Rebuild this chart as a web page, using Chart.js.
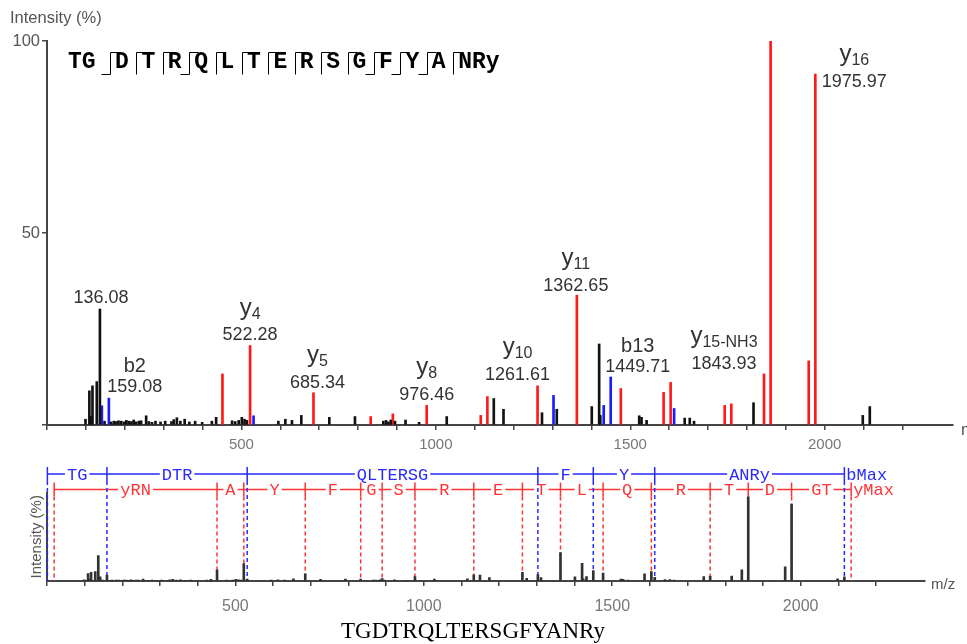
<!DOCTYPE html>
<html>
<head>
<meta charset="utf-8">
<script src="https://cdn.jsdelivr.net/npm/chart.js@4.4.0/dist/chart.umd.min.js"></script>
<style>
body { margin: 0; background: #fff; width: 967px; height: 644px; overflow: hidden; position: relative; }
#spectrum { position: absolute; left: 0; top: 0; }
#ladder { position: absolute; left: 0; top: 455px; }
#caption { position: absolute; left: 0; width: 946px; top: 619px; text-align: center;
           font: 23px "Liberation Serif", "Times New Roman", serif; line-height: 23px; color: #000; }
</style>
</head>
<body>
<canvas id="spectrum" width="967" height="460"></canvas>
<canvas id="ladder" width="967" height="165"></canvas>
<div id="caption">TGDTRQLTERSGFYANRy</div>
<script>
// unassigned peaks (m/z, relative intensity %)
var peakMz  = [99, 109, 113, 117, 128, 136.08, 148, 165, 172, 178.5, 184, 191, 198, 204, 210, 217, 223, 229, 236, 242,
               255, 262, 270, 279, 292, 304, 320, 326, 334, 343, 354, 366, 381, 399, 424, 435, 476, 484, 493, 501,
               508, 514, 595, 613, 630, 654, 726, 792, 865, 872, 878, 884, 895, 922, 957, 1028, 1149, 1174, 1273, 1311,
               1401, 1420, 1423, 1523, 1529, 1542, 1640, 1653, 1664, 1817, 2098, 2116];
var peakInt = [1.5, 8.9, 2.2, 10.2, 11.3, 30.2, 1.0, 0.8, 1.0, 0.9, 1.1, 1.0, 0.8, 1.2, 1.0, 0.9, 1.3, 0.8, 1.0, 1.1,
               2.4, 0.9, 0.7, 1.0, 0.8, 1.0, 0.9, 1.4, 1.9, 1.0, 1.5, 0.8, 1.0, 0.7, 1.0, 2.0, 1.1, 0.9, 1.2, 2.0,
               1.5, 1.2, 1.0, 1.5, 1.2, 2.5, 2.0, 2.2, 1.0, 1.2, 0.8, 1.3, 1.0, 1.3, 0.7, 2.2, 6.9, 4.1, 3.2, 4.1,
               4.8, 21.1, 2.5, 2.4, 2.0, 1.2, 1.8, 1.8, 1.0, 5.8, 2.5, 4.8];

// y-series fragments
var yIonMz  = [451.24, 522.28, 685.34, 832.41, 889.43, 976.46, 1115.53, 1132.56, 1261.61, 1362.65,
               1475.73, 1585.78, 1603.79, 1742.86, 1759.89, 1843.93, 1860.94, 1958.94, 1975.97];
var yIonInt = [13.3, 20.7, 8.4, 2.2, 2.9, 5.1, 2.5, 7.4, 10.2, 33.8,
               9.5, 8.5, 11.1, 5.1, 5.5, 13.3, 100, 16.7, 91.4];

// b-series fragments
var bIonMz  = [141.07, 159.08, 531.25, 1302.64, 1431.70, 1449.71, 1612.77];
var bIonInt = [5.0, 7.0, 2.4, 7.7, 5.1, 12.5, 4.3];

// labelled peaks
var annMz   = [136.08, 159.08, 522.28, 685.34, 976.46, 1261.61, 1362.65, 1449.71, 1843.93, 1975.97];
var annIon  = ['', 'b2', 'y', 'y', 'y', 'y', 'y', 'b13', 'y', 'y'];
var annSub  = ['', '', '4', '5', '8', '10', '11', '', '15-NH3', '16'];
// label placement relative to the peak top (px)
var annDx   = [1, 26, 0, 4, 0, -20, -1, 27, -40, 39];
var annDy   = [-11, -11, -10, -10, -10, -11, -9, -10, -10, 8];

// sequence header: residue blocks and which breaks were seen as b / y ions
var seqBlocks = ['TG', 'D', 'T', 'R', 'Q', 'L', 'T', 'E', 'R', 'S', 'G', 'F', 'Y', 'A', 'NRy'];
var seqBreakB = [1, 0, 0, 1, 0, 0, 0, 0, 0, 0, 1, 1, 1, 0];
var seqBreakY = [1, 1, 1, 1, 1, 1, 1, 1, 1, 1, 1, 1, 1, 1];

// fragment ladders
var bLadderMz  = [1.01, 159.08, 531.25, 1302.64, 1449.71, 1612.77, 2116.03];
var bLadderTxt = ['TG', 'DTR', 'QLTERSG', 'F', 'Y', 'ANRy'];
var yLadderMz  = [19.02, 451.24, 522.28, 685.34, 832.41, 889.43, 976.46, 1132.56, 1261.61, 1362.65,
                  1475.73, 1603.79, 1759.89, 1860.94, 1975.97, 2134.04];
var yLadderTxt = ['yRN', 'A', 'Y', 'F', 'G', 'S', 'R', 'E', 'T', 'L', 'Q', 'R', 'T', 'D', 'GT'];

var xTicks = [500, 1000, 1500, 2000];

var SANS = '"Liberation Sans", Arial, sans-serif';
var MONO = '"Liberation Mono", "Courier New", monospace';
var RED = '#ff1a1a', BLUE = '#1a1aff';

function points(mz, val) {
    return mz.map(function (m, i) { return { x: m, y: val[i] }; });
}

function intensityAt(m) {
    var lists = [[yIonMz, yIonInt], [bIonMz, bIonInt], [peakMz, peakInt]];
    for (var i = 0; i < lists.length; i++) {
        var k = lists[i][0].indexOf(m);
        if (k >= 0) return lists[i][1][k];
    }
    return 0;
}

function xAxis(afterFitHeight, labelPad, fontSize) {
    return {
        type: 'linear', min: 0, max: 2330, offset: false,
        afterBuildTicks: function (s) { s.ticks = s.ticks.filter(function (t) { return t.value % 100 === 0; }); },
        afterFit: function (s) { s.height = afterFitHeight; },
        border: { display: true, color: '#444', width: 2 },
        grid: { display: true, offset: false, drawOnChartArea: false, drawTicks: true, tickLength: 5, color: '#444', lineWidth: 1.5 },
        ticks: {
            stepSize: 100, autoSkip: false, maxRotation: 0, padding: labelPad,
            color: '#777', font: { family: SANS, size: fontSize },
            callback: function (v) { return xTicks.indexOf(v) >= 0 ? String(v) : ''; }
        }
    };
}

// ---------- main spectrum ----------
var spectrumText = {
    id: 'spectrumText',
    afterDatasetsDraw: function (chart) {
        var ctx = chart.ctx, x = chart.scales.x, y = chart.scales.y;
        ctx.save();
        annMz.forEach(function (m, i) {
            var cx = x.getPixelForValue(m) + annDx[i];
            var vc = y.getPixelForValue(intensityAt(m)) + annDy[i];
            ctx.fillStyle = '#333';
            ctx.textAlign = 'center';
            ctx.textBaseline = 'middle';
            ctx.font = '18px ' + SANS;
            ctx.fillText(m.toFixed(2), cx, vc);
            if (annIon[i] === 'y') {
                ctx.font = '24px ' + SANS;
                var w1 = ctx.measureText('y').width;
                ctx.font = '16px ' + SANS;
                var w2 = ctx.measureText(annSub[i]).width;
                var x0 = cx - (w1 + w2) / 2, base = vc - 21;
                ctx.textAlign = 'left';
                ctx.textBaseline = 'alphabetic';
                ctx.font = '24px ' + SANS;
                ctx.fillText('y', x0, base);
                ctx.font = '16px ' + SANS;
                ctx.fillText(annSub[i], x0 + w1, base + 4);
            } else if (annIon[i]) {
                ctx.textBaseline = 'alphabetic';
                ctx.font = '20px ' + SANS;
                ctx.fillText(annIon[i], cx, vc - 15);
            }
        });
        ctx.restore();
    },
    afterDraw: function (chart) {
        var ctx = chart.ctx, a = chart.chartArea;
        ctx.save();
        ctx.fillStyle = '#555';
        ctx.font = '16.5px ' + SANS;
        ctx.textBaseline = 'middle';
        ctx.textAlign = 'left';
        ctx.fillText('Intensity (%)', a.left - 37, a.top - 23);
        ctx.fillText('m/z', a.right + 8, a.bottom + 5);

        // sequence with fragmentation marks
        ctx.fillStyle = '#000';
        ctx.strokeStyle = '#000';
        ctx.lineWidth = 1;
        ctx.font = 'bold 23px ' + MONO;
        ctx.textBaseline = 'alphabetic';
        var starts = seqBlocks.map(function (b, k) { return k === 0 ? a.left + 21 : a.left + 68 + (k - 1) * 26.4; });
        seqBlocks.forEach(function (b, k) { ctx.fillText(b, starts[k], 68); });
        for (var k = 0; k < seqBlocks.length - 1; k++) {
            var vx = Math.round(starts[k + 1] - 5) + 0.5;
            ctx.beginPath();
            ctx.moveTo(vx, 52.5);
            ctx.lineTo(vx, 74.5);
            if (seqBreakB[k]) { ctx.moveTo(vx - 9, 74.5); ctx.lineTo(vx, 74.5); }
            if (seqBreakY[k]) { ctx.moveTo(vx, 52.5); ctx.lineTo(vx + 9, 52.5); }
            ctx.stroke();
        }
        ctx.restore();
    }
};

new Chart(document.getElementById('spectrum'), {
    type: 'bar',
    data: {
        datasets: [
            { data: points(peakMz, peakInt), backgroundColor: '#111' },
            { data: points(bIonMz, bIonInt), backgroundColor: BLUE },
            { data: points(yIonMz, yIonInt), backgroundColor: RED }
        ]
    },
    options: {
        responsive: false,
        animation: false,
        layout: { padding: { left: 7, right: 14, top: 41, bottom: 0 } },
        datasets: { bar: { barThickness: 2, grouped: false } },
        plugins: { legend: { display: false }, tooltip: { enabled: false } },
        scales: {
            x: xAxis(35, 6, 15),
            y: {
                min: 0, max: 100,
                afterFit: function (s) { s.width = 40; },
                border: { display: true, color: '#444', width: 2 },
                grid: { display: true, drawOnChartArea: false, drawTicks: true, tickLength: 5, color: '#444', lineWidth: 1.5 },
                ticks: {
                    stepSize: 50, padding: 2, color: '#555', font: { family: SANS, size: 16.5 },
                    callback: function (v) { return v === 0 ? '' : String(v); }
                }
            }
        }
    },
    plugins: [spectrumText]
});

// ---------- fragment ladder panel ----------
function drawLadder(chart, mzs, names, endName, lineY, color) {
    var ctx = chart.ctx, x = chart.scales.x, a = chart.chartArea;
    var px = mzs.map(function (m) { return x.getPixelForValue(m); });
    var last = px[px.length - 1];
    ctx.save();
    ctx.strokeStyle = color;
    ctx.lineWidth = 1.5;
    ctx.setLineDash([4, 3]);
    ctx.beginPath();
    px.forEach(function (p) { ctx.moveTo(p, lineY + 7); ctx.lineTo(p, a.bottom); });
    ctx.stroke();
    ctx.setLineDash([]);
    ctx.beginPath();
    ctx.moveTo(px[0], lineY);
    ctx.lineTo(last, lineY);
    px.forEach(function (p) { ctx.moveTo(p, lineY - 7); ctx.lineTo(p, lineY + 7); });
    ctx.stroke();
    ctx.font = '17px ' + MONO;
    ctx.textBaseline = 'middle';
    ctx.textAlign = 'center';
    names.forEach(function (t, i) {
        var cx = (px[i] + px[i + 1]) / 2;
        var w = ctx.measureText(t).width + 4;
        ctx.fillStyle = '#fff';
        ctx.fillRect(cx - w / 2, lineY - 6, w, 12);
        ctx.fillStyle = color;
        ctx.fillText(t, cx, lineY + 1);
    });
    ctx.textAlign = 'left';
    ctx.fillText(endName, last + 2, lineY + 1);
    ctx.restore();
}

var ladderPlugin = {
    id: 'ladderPlugin',
    beforeDatasetsDraw: function (chart) {
        drawLadder(chart, yLadderMz, yLadderTxt, 'yMax', 34.5, '#ff3535');
        drawLadder(chart, bLadderMz, bLadderTxt, 'bMax', 19, '#2a2aff');
    },
    afterDraw: function (chart) {
        var ctx = chart.ctx, a = chart.chartArea;
        ctx.save();
        ctx.fillStyle = '#555';
        ctx.font = '15px ' + SANS;
        ctx.textBaseline = 'middle';
        ctx.textAlign = 'left';
        ctx.fillText('m/z', a.right + 6, a.bottom + 4);
        ctx.translate(a.left - 10, (a.top + a.bottom) / 2);
        ctx.rotate(-Math.PI / 2);
        ctx.textAlign = 'center';
        ctx.fillText('Intensity (%)', 0, 0);
        ctx.restore();
    }
};

var allMz = peakMz.concat(bIonMz, yIonMz);
var allInt = peakInt.concat(bIonInt, yIonInt);

new Chart(document.getElementById('ladder'), {
    type: 'bar',
    data: { datasets: [{ data: points(allMz, allInt), backgroundColor: '#333' }] },
    options: {
        responsive: false,
        animation: false,
        layout: { padding: { left: 7, right: 42, top: 37.5, bottom: 0 } },
        datasets: { bar: { barThickness: 2, grouped: false } },
        plugins: { legend: { display: false }, tooltip: { enabled: false } },
        scales: {
            x: xAxis(39, 11, 16),
            y: {
                min: 0, max: 105,
                afterFit: function (s) { s.width = 40; },
                border: { display: true, color: '#444', width: 2 },
                grid: { display: false },
                ticks: { display: false }
            }
        }
    },
    plugins: [ladderPlugin]
});
</script>
</body>
</html>
